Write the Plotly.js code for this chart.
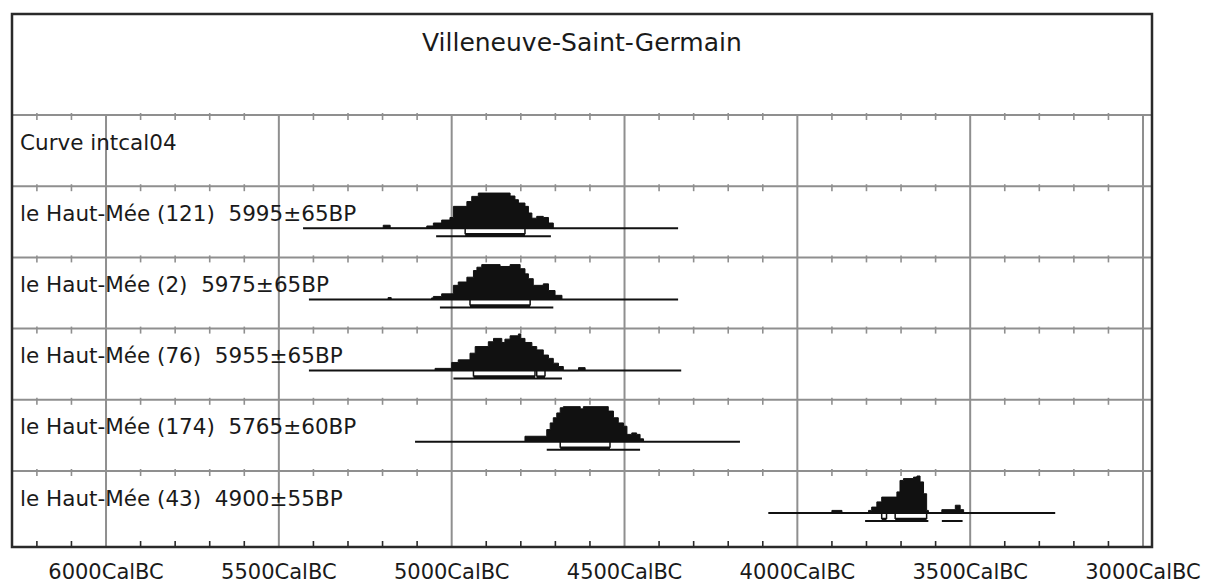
<!DOCTYPE html>
<html><head><meta charset="utf-8">
<script src="https://cdn.plot.ly/plotly-3.0.1.min.js"></script>
<style>html,body{margin:0;padding:0;background:#fff}</style>
</head><body>
<div id="chart" style="width:1205px;height:587px"></div>
<script>
// ---------------- data ----------------
const chartTitle = "Villeneuve-Saint-Germain";
const curveLabel = "Curve intcal04";
const sampleLabels = [
  "le Haut-Mée (121)\u00a0\u00a05995±65BP",
  "le Haut-Mée (2)\u00a0\u00a05975±65BP",
  "le Haut-Mée (76)\u00a0\u00a05955±65BP",
  "le Haut-Mée (174)\u00a0\u00a05765±60BP",
  "le Haut-Mée (43)\u00a0\u00a04900±55BP"
];
const tickYears = [6000, 5500, 5000, 4500, 4000, 3500, 3000];
const tickLabels = ["6000CalBC", "5500CalBC", "5000CalBC", "4500CalBC", "4000CalBC", "3500CalBC", "3000CalBC"];

// probability distributions (cal BC year where a step starts, relative height)
const dist121Years = [5198, 5178, 5072, 5053, 5029, 5005, 4995, 4956, 4942, 4923, 4831, 4817, 4807, 4788, 4778, 4768, 4754, 4735, 4720, 4706];
const dist121Prob  = [0.08, 0,    0.06, 0.14, 0.22, 0.29, 0.59, 0.72, 0.86, 0.95, 0.87, 0.77, 0.68, 0.59, 0.41, 0.27, 0.32, 0.29, 0.14, 0];
const dist2Years   = [5184, 5175, 5058, 5053, 5029, 4995, 4981, 4956, 4937, 4927, 4913, 4860, 4831, 4802, 4788, 4778, 4764, 4735, 4720, 4701, 4681];
const dist2Prob    = [0.05, 0,    0.04, 0.08, 0.15, 0.38, 0.47, 0.60, 0.78, 0.87, 0.94, 0.89, 0.94, 0.83, 0.69, 0.56, 0.38, 0.42, 0.24, 0.11, 0];
const dist76Years  = [5048, 5000, 4981, 4947, 4932, 4894, 4879, 4855, 4846, 4831, 4807, 4800, 4788, 4768, 4754, 4735, 4720, 4706, 4691, 4677, 4633, 4614];
const dist76Prob   = [0.06, 0.22, 0.29, 0.47, 0.65, 0.78, 0.87, 0.76, 0.85, 0.94, 0.99, 0.87, 0.76, 0.65, 0.56, 0.42, 0.33, 0.20, 0.11, 0,    0.08, 0];
const dist174Years = [4788, 4725, 4715, 4706, 4696, 4686, 4677, 4628, 4619, 4547, 4532, 4518, 4503, 4493, 4479, 4465, 4455, 4445];
const dist174Prob  = [0.15, 0.33, 0.51, 0.65, 0.78, 0.92, 0.95, 0.89, 0.95, 0.83, 0.65, 0.51, 0.42, 0.20, 0.24, 0.20, 0.08, 0];
const dist43Years  = [3900, 3871, 3794, 3785, 3770, 3756, 3712, 3703, 3693, 3664, 3654, 3645, 3635, 3626, 3621, 3582, 3543, 3529, 3519];
const dist43Prob   = [0.07, 0,    0.07, 0.16, 0.30, 0.43, 0.57, 0.88, 0.93, 0.97, 1.00, 0.84, 0.52, 0.07, 0,    0.09, 0.21, 0.09, 0];

// calibration plotting extent (line under each distribution)
const plotExtent = [[5430, 4345], [5413, 4345], [5413, 4336], [5106, 4166], [4084, 3254]];
// 95.4% and 68.2% ranges
const range95 = [[[5045, 4713]], [[5034, 4706]], [[4995, 4681]], [[4725, 4455]], [[3804, 3621], [3582, 3522]]];
const range68 = [[[4961, 4788]], [[4947, 4773]], [[4937, 4759], [4754, 4730]], [[4686, 4542]], [[3756, 3742], [3717, 3626]]];

// ---------------- layout constants ----------------
const distYears = [dist121Years, dist2Years, dist76Years, dist174Years, dist43Years];
const distProb  = [dist121Prob, dist2Prob, dist76Prob, dist174Prob, dist43Prob];
const FRAME_H = 533, TITLE_H = 101, ROW_H = 71.2, BASE_OFF = 42, PEAK_PX = 37;
const X_LEFT = 6272, X_RIGHT = 2974;
const GRID = '#8f8f8f', INK = '#111', FRAME = '#2a2a2a';
const FONT = 'DejaVu Sans, sans-serif';
const rowTop = i => TITLE_H + ROW_H * i;   // i = 0 curve row, 1..5 samples

const traces = [];
// minor ticks on every horizontal line and bottom axis
(function () {
  const gx = [], gy = [], bx = [], by = [];
  for (let yr = 6200; yr >= 3100; yr -= 100) {
    if (yr % 500 === 0) continue;
    for (let i = 0; i <= 5; i++) {
      const y = rowTop(i);
      gx.push(yr, yr, null); gy.push(y - 2, y + 5, null);
    }
    bx.push(yr, yr, null); by.push(FRAME_H - 6, FRAME_H, null);
  }
  traces.push({x: gx, y: gy, mode: 'lines', line: {color: GRID, width: 1.6}, hoverinfo: 'skip', showlegend: false});
  traces.push({x: bx, y: by, mode: 'lines', line: {color: FRAME, width: 1.6}, hoverinfo: 'skip', showlegend: false});
})();

for (let k = 0; k < 5; k++) {
  const base = rowTop(k + 1) + BASE_OFF;
  // extent line
  traces.push({x: plotExtent[k], y: [base, base], mode: 'lines', line: {color: INK, width: 2}, hoverinfo: 'skip', showlegend: false});
  // distribution
  const xs = [distYears[k][0]].concat(distYears[k]);
  const ys = [base].concat(distProb[k].map(p => base - p * PEAK_PX));
  traces.push({x: xs, y: ys, mode: 'lines', line: {color: INK, width: 1, shape: 'hv'}, fill: 'toself', fillcolor: INK, hoverinfo: 'skip', showlegend: false});
  // 95% ranges
  const r95x = [], r95y = [];
  range95[k].forEach(r => { r95x.push(r[0], r[1], null); r95y.push(base + 8, base + 8, null); });
  traces.push({x: r95x, y: r95y, mode: 'lines', line: {color: INK, width: 2}, hoverinfo: 'skip', showlegend: false});
  // 68% ranges with end ticks
  const r68x = [], r68y = [], tkx = [], tky = [];
  range68[k].forEach(r => {
    r68x.push(r[0], r[1], null); r68y.push(base + 6.5, base + 6.5, null);
    tkx.push(r[0], r[0], null, r[1], r[1], null); tky.push(base, base + 6, null, base, base + 6, null);
  });
  traces.push({x: r68x, y: r68y, mode: 'lines', line: {color: INK, width: 3.5}, hoverinfo: 'skip', showlegend: false});
  traces.push({x: tkx, y: tky, mode: 'lines', line: {color: INK, width: 1.5}, hoverinfo: 'skip', showlegend: false});
}

// ---------------- shapes ----------------
const shapes = [];
for (let i = 0; i <= 5; i++) {
  shapes.push({type: 'line', xref: 'paper', yref: 'y', x0: 0, x1: 1, y0: rowTop(i), y1: rowTop(i), line: {color: GRID, width: 2}, layer: 'below'});
}
tickYears.forEach(yr => {
  shapes.push({type: 'line', xref: 'x', yref: 'y', x0: yr, x1: yr, y0: TITLE_H, y1: FRAME_H, line: {color: GRID, width: 2}, layer: 'below'});
});
shapes.push({type: 'rect', xref: 'paper', yref: 'paper', x0: 0, x1: 1, y0: 0, y1: 1, line: {color: FRAME, width: 2.5}, layer: 'above'});

// ---------------- annotations ----------------
const annotations = [];
annotations.push({text: chartTitle, xref: 'paper', yref: 'y', x: 0.5, y: 28.5, xanchor: 'center', yanchor: 'middle', showarrow: false, font: {family: FONT, size: 25, color: '#1a1a1a'}});
annotations.push({text: curveLabel, xref: 'paper', yref: 'y', x: 6 / 1140, y: rowTop(0) + 27, xanchor: 'left', yanchor: 'middle', showarrow: false, font: {family: FONT, size: 21.5, color: '#1a1a1a'}});
sampleLabels.forEach((t, k) => {
  annotations.push({text: t, xref: 'paper', yref: 'y', x: 6 / 1140, y: rowTop(k + 1) + 27, xanchor: 'left', yanchor: 'middle', showarrow: false, font: {family: FONT, size: 21.5, color: '#1a1a1a'}});
});

const layout = {
  width: 1205, height: 587,
  margin: {l: 12, r: 53, t: 14, b: 40, pad: 0},
  paper_bgcolor: '#fff', plot_bgcolor: '#fff',
  showlegend: false,
  xaxis: {range: [X_LEFT, X_RIGHT], tickmode: 'array', tickvals: tickYears, ticktext: tickLabels,
          showgrid: false, zeroline: false, showline: false, ticks: '',
          tickfont: {family: FONT, size: 21, color: '#1a1a1a'}, ticklabelstandoff: 10},
  yaxis: {range: [FRAME_H, 0], showgrid: false, zeroline: false, showline: false, showticklabels: false, ticks: ''},
  shapes: shapes,
  annotations: annotations
};

Plotly.newPlot('chart', traces, layout, {displayModeBar: false, staticPlot: true});
</script>
</body></html>
